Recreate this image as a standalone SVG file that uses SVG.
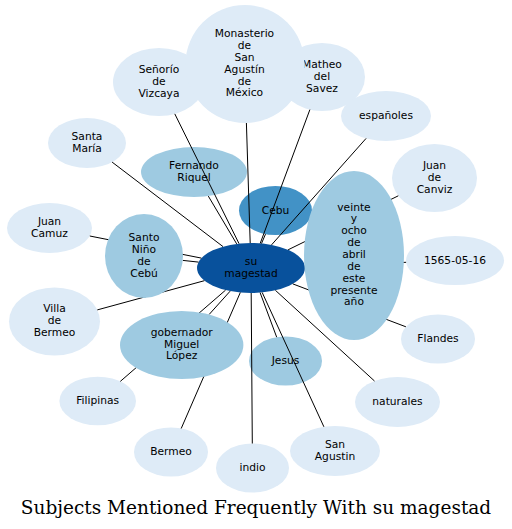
<svg xmlns="http://www.w3.org/2000/svg" width="512" height="529" viewBox="0 0 512 529">
<style>
  .n text { font-family: "DejaVu Sans", Verdana, sans-serif; font-size: 10.7px; fill: #000; text-anchor: middle; }
  .l ellipse { fill: #deebf7; }
  .m ellipse { fill: #9ecae1; }
  .d ellipse { fill: #4292c6; }
  .c ellipse { fill: #08519c; }
  #connectors path { stroke: #000; stroke-width: 1; fill: none; }
  .title { font-family: "DejaVu Serif", "Liberation Serif", serif; font-size: 18.5px; fill: #000; text-anchor: middle; }
</style>
<rect width="512" height="529" fill="#fff"/>

<g id="senorio" class="n l"><ellipse cx="159" cy="82" rx="46" ry="34"/><text x="159" y="73.2">Señorío<tspan x="159" dy="11.8">de</tspan><tspan x="159" dy="11.8">Vizcaya</tspan></text></g>
<g id="matheo" class="n l"><ellipse cx="322" cy="77" rx="43" ry="34"/><text x="322" y="68.2">Matheo<tspan x="322" dy="11.8">del</tspan><tspan x="322" dy="11.8">Savez</tspan></text></g>
<g id="monasterio" class="n l"><ellipse cx="245" cy="64" rx="59.5" ry="59"/><text x="244.5" y="37.3">Monasterio<tspan x="244.5" dy="11.8">de</tspan><tspan x="244.5" dy="11.8">San</tspan><tspan x="244.5" dy="11.8">Agustín</tspan><tspan x="244.5" dy="11.8">de</tspan><tspan x="244.5" dy="11.8">México</tspan></text></g>
<g id="espanoles" class="n l"><ellipse cx="386" cy="116" rx="45" ry="25"/><text x="386" y="119.3">españoles</text></g>
<g id="santamaria" class="n l"><ellipse cx="87" cy="143" rx="39" ry="25"/><text x="87" y="140.1">Santa<tspan x="87" dy="11.8">María</tspan></text></g>
<g id="fernando" class="n m"><ellipse cx="194" cy="172" rx="53" ry="25"/><text x="194" y="169.1">Fernando<tspan x="194" dy="11.8">Riquel</tspan></text></g>
<g id="cebu" class="n d"><ellipse cx="275.5" cy="210.5" rx="36.5" ry="24.5"/><text x="275.5" y="213.5">Cebu</text></g>
<g id="juancamuz" class="n l"><ellipse cx="49.5" cy="228" rx="42.5" ry="25"/><text x="49.5" y="225.1">Juan<tspan x="49.5" dy="11.8">Camuz</tspan></text></g>
<g id="juancanviz" class="n l"><ellipse cx="434.5" cy="178" rx="42.5" ry="34"/><text x="434.5" y="169">Juan<tspan x="434.5" dy="11.8">de</tspan><tspan x="434.5" dy="11.8">Canviz</tspan></text></g>
<g id="d1565" class="n l"><ellipse cx="455" cy="260.5" rx="49" ry="24.5"/><text x="455" y="263.5">1565-05-16</text></g>
<g id="villabermeo" class="n l"><ellipse cx="54.5" cy="321.5" rx="45.5" ry="34"/><text x="54.5" y="312.4">Villa<tspan x="54.5" dy="11.8">de</tspan><tspan x="54.5" dy="11.8">Bermeo</tspan></text></g>
<g id="flandes" class="n l"><ellipse cx="438" cy="339" rx="37" ry="24.5"/><text x="438" y="342">Flandes</text></g>
<g id="jesus" class="n m"><ellipse cx="285.5" cy="361" rx="36.5" ry="24.5"/><text x="285.5" y="364">Jesus</text></g>
<g id="filipinas" class="n l"><ellipse cx="97.7" cy="401" rx="38.3" ry="24.3"/><text x="97.7" y="404">Filipinas</text></g>
<g id="naturales" class="n l"><ellipse cx="397.5" cy="402" rx="42.5" ry="25"/><text x="397.5" y="405">naturales</text></g>
<g id="bermeo" class="n l"><ellipse cx="171" cy="452" rx="37" ry="24.5"/><text x="171" y="455">Bermeo</text></g>
<g id="indio" class="n l"><ellipse cx="252.5" cy="468" rx="36.5" ry="24.5"/><text x="252.5" y="471">indio</text></g>
<g id="sanagustin" class="n l"><ellipse cx="335" cy="451" rx="45" ry="25"/><text x="335" y="447.8">San<tspan x="335" dy="11.8">Agustin</tspan></text></g>
<g id="sumagestad" class="n c"><ellipse cx="251" cy="268" rx="54" ry="25"/><text x="251" y="265">su<tspan x="251" dy="11.8">magestad</tspan></text></g>

<g id="connectors">
  <path d="M246.4,123 L250.2,243"/>
  <path d="M174.8,113.9 L239,243.6"/>
  <path d="M309.9,109.6 L260.2,243.4"/>
  <path d="M366.1,138.4 L271.5,244.9"/>
  <path d="M112.1,162.1 L223,246.6"/>
  <path d="M208.3,196.1 L236.7,243.9"/>
  <path d="M265.5,234.1 L261.5,243.5"/>
  <path d="M89.8,236 L201.4,258.1"/>
  <path d="M182.8,260.4 L198.5,262.1"/>
  <path d="M398.3,195.8 L288.1,249.8"/>
  <path d="M406.1,262.3 L304.8,266"/>
  <path d="M97.3,309.9 L204.4,280.7"/>
  <path d="M209.1,314.5 L230.2,291.1"/>
  <path d="M120.3,381.4 L225.6,290.1"/>
  <path d="M181.2,428.5 L240.3,292.5"/>
  <path d="M405.9,326.8 L292.8,283.9"/>
  <path d="M276.7,337.2 L260.1,292.6"/>
  <path d="M374.5,381 L275.4,290.3"/>
  <path d="M252.3,443.5 L251.2,293"/>
  <path d="M323.9,426.8 L262.2,292.5"/>
</g>

<g id="santonino" class="n m"><ellipse cx="144" cy="256" rx="39" ry="42"/><text x="144" y="241.2">Santo<tspan x="144" dy="11.8">Niño</tspan><tspan x="144" dy="11.8">de</tspan><tspan x="144" dy="11.8">Cebú</tspan></text></g>
<g id="veinte" class="n m"><ellipse cx="354" cy="255.5" rx="50" ry="84.5"/><text x="354" y="210.6">veinte<tspan x="354" dy="11.85">y</tspan><tspan x="354" dy="11.85">ocho</tspan><tspan x="354" dy="11.85">de</tspan><tspan x="354" dy="11.85">abril</tspan><tspan x="354" dy="11.85">de</tspan><tspan x="354" dy="11.85">este</tspan><tspan x="354" dy="11.85">presente</tspan><tspan x="354" dy="11.85">año</tspan></text></g>
<g id="gobernador" class="n m"><ellipse cx="181.7" cy="345" rx="61.7" ry="34"/><text x="181.7" y="335.8">gobernador<tspan x="181.7" dy="11.8">Miguel</tspan><tspan x="181.7" dy="11.8">López</tspan></text></g>

<text class="title" x="256" y="514">Subjects Mentioned Frequently With su magestad</text>
</svg>
